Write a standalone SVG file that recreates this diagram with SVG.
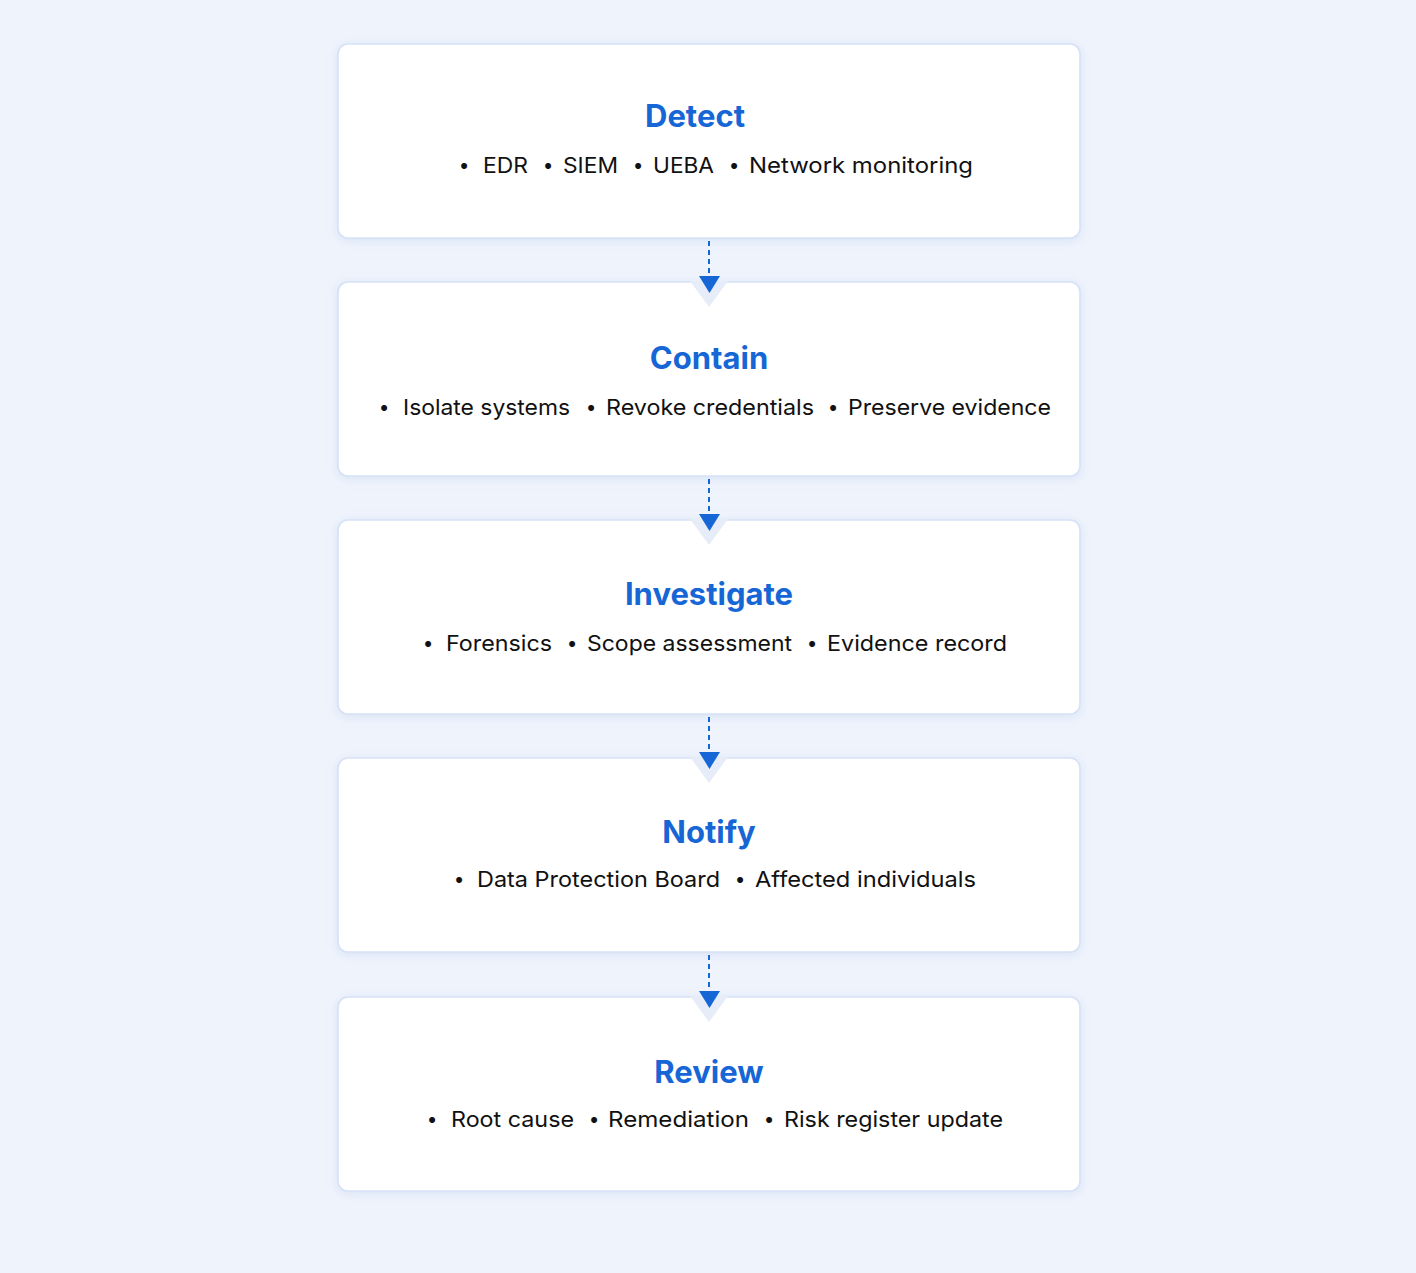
<svg xmlns="http://www.w3.org/2000/svg" width="1416" height="1273" viewBox="0 0 1416 1273">
<defs>
<style>
.box{fill:#ffffff;stroke:#d6e2f6;stroke-width:1.6}
.title{font-family:Inter,"Noto Sans",sans-serif;font-weight:700;font-size:31px;fill:#1766d6;text-anchor:middle}
.item{font-family:Inter,"Noto Sans",sans-serif;font-size:22px;fill:#111111}
.bul{font-family:Inter,"Noto Sans",sans-serif;font-size:19px;fill:#111111;text-anchor:middle}
.dash{stroke:#1766d6;stroke-width:2;stroke-dasharray:5 4;fill:none}
.head{fill:#1766d6}
.notch{fill:#e6edf9}
</style>
<filter id="sh" x="-10%" y="-20%" width="120%" height="140%">
<feDropShadow dx="0" dy="2" stdDeviation="5" flood-color="#c8d7f0" flood-opacity="0.55"/>
</filter>
</defs>
<rect width="1416" height="1273" fill="#eef3fc"/>

<g id="node-detect">
<rect class="box" x="338" y="44" width="742" height="194" rx="10" filter="url(#sh)"/>
<text class="title" x="695" y="127">Detect</text>
<text class="bul" x="464" y="172">•</text>
<text class="item" x="483" y="173" textLength="45" lengthAdjust="spacingAndGlyphs">EDR</text>
<text class="bul" x="548" y="172">•</text>
<text class="item" x="563" y="173" textLength="55" lengthAdjust="spacingAndGlyphs">SIEM</text>
<text class="bul" x="638" y="172">•</text>
<text class="item" x="653" y="173" textLength="61" lengthAdjust="spacingAndGlyphs">UEBA</text>
<text class="bul" x="734" y="172">•</text>
<text class="item" x="749" y="173" textLength="224" lengthAdjust="spacingAndGlyphs">Network monitoring</text>
</g>

<g id="node-contain">
<rect class="box" x="338" y="282" width="742" height="194" rx="10" filter="url(#sh)"/>
<text class="title" x="709" y="369">Contain</text>
<text class="bul" x="384" y="414">•</text>
<text class="item" x="403" y="415" textLength="167" lengthAdjust="spacingAndGlyphs">Isolate systems</text>
<text class="bul" x="591" y="414">•</text>
<text class="item" x="606" y="415" textLength="208" lengthAdjust="spacingAndGlyphs">Revoke credentials</text>
<text class="bul" x="833" y="414">•</text>
<text class="item" x="848" y="415" textLength="203" lengthAdjust="spacingAndGlyphs">Preserve evidence</text>
</g>

<g id="node-investigate">
<rect class="box" x="338" y="520" width="742" height="194" rx="10" filter="url(#sh)"/>
<text class="title" x="709" y="605">Investigate</text>
<text class="bul" x="428" y="650">•</text>
<text class="item" x="446" y="651" textLength="106" lengthAdjust="spacingAndGlyphs">Forensics</text>
<text class="bul" x="572" y="650">•</text>
<text class="item" x="587" y="651" textLength="205" lengthAdjust="spacingAndGlyphs">Scope assessment</text>
<text class="bul" x="812" y="650">•</text>
<text class="item" x="827" y="651" textLength="180" lengthAdjust="spacingAndGlyphs">Evidence record</text>
</g>

<g id="node-notify">
<rect class="box" x="338" y="758" width="742" height="194" rx="10" filter="url(#sh)"/>
<text class="title" x="709" y="843">Notify</text>
<text class="bul" x="459" y="886">•</text>
<text class="item" x="477" y="887" textLength="243" lengthAdjust="spacingAndGlyphs">Data Protection Board</text>
<text class="bul" x="740" y="886">•</text>
<text class="item" x="755" y="887" textLength="221" lengthAdjust="spacingAndGlyphs">Affected individuals</text>
</g>

<g id="node-review">
<rect class="box" x="338" y="997" width="742" height="194" rx="10" filter="url(#sh)"/>
<text class="title" x="709" y="1083">Review</text>
<text class="bul" x="432" y="1126">•</text>
<text class="item" x="451" y="1127" textLength="123" lengthAdjust="spacingAndGlyphs">Root cause</text>
<text class="bul" x="594" y="1126">•</text>
<text class="item" x="608" y="1127" textLength="141" lengthAdjust="spacingAndGlyphs">Remediation</text>
<text class="bul" x="769" y="1126">•</text>
<text class="item" x="784" y="1127" textLength="219" lengthAdjust="spacingAndGlyphs">Risk register update</text>
</g>

<g id="connectors">
<polygon class="notch" points="690,281 728,281 709,307"/>
<line class="dash" x1="709" y1="241" x2="709" y2="277"/>
<polygon class="head" points="699,276 720,276 709.5,293"/>

<polygon class="notch" points="690,519 728,519 709,545"/>
<line class="dash" x1="709" y1="479" x2="709" y2="515"/>
<polygon class="head" points="699,514 720,514 709.5,531"/>

<polygon class="notch" points="690,757 728,757 709,783"/>
<line class="dash" x1="709" y1="717" x2="709" y2="753"/>
<polygon class="head" points="699,752 720,752 709.5,769"/>

<polygon class="notch" points="690,996 728,996 709,1022"/>
<line class="dash" x1="709" y1="955" x2="709" y2="992"/>
<polygon class="head" points="699,991 720,991 709.5,1008"/>
</g>
</svg>
